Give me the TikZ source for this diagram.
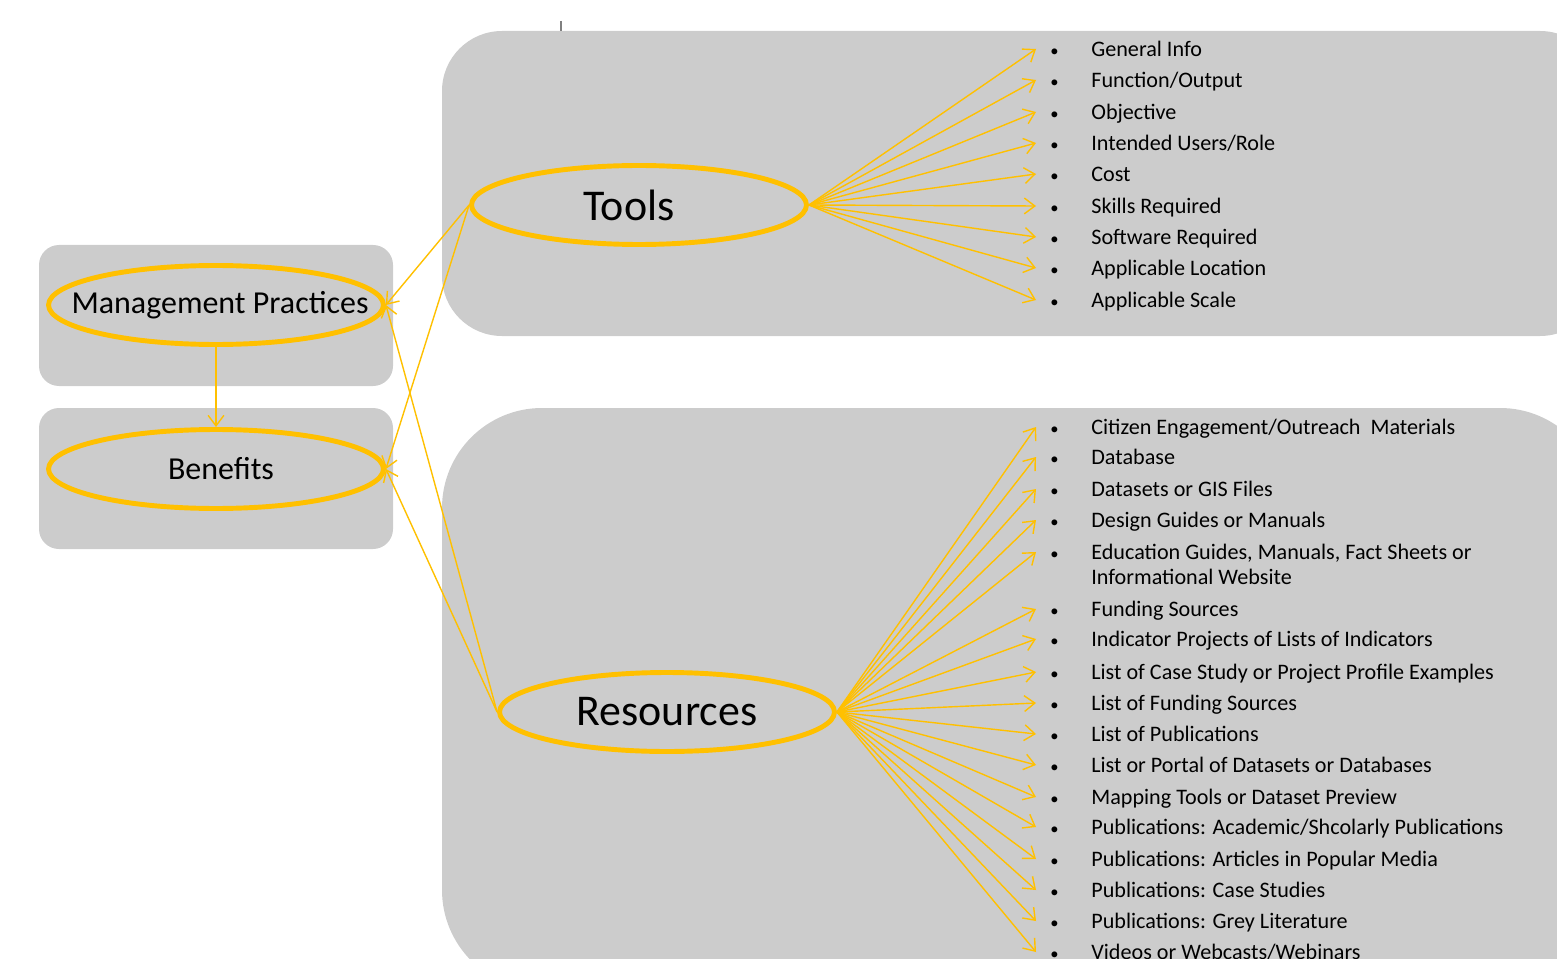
\documentclass[tikz,border=0pt]{standalone}
\usepackage{fontspec}
\setmainfont{Carlito}
\usetikzlibrary{shapes.geometric,arrows.meta}
\definecolor{gold}{HTML}{FFC000}
\definecolor{panelgrey}{HTML}{CCCCCC}
\newcommand{\bul}{\makebox[0.86cm][l]{\hspace{0.04cm}\scalebox{0.75}{\textbullet}}}

\begin{document}
\begin{tikzpicture}[x=0.02cm,y=-0.02cm,
    panel/.style = {fill=panelgrey},
    topic/.style = {ellipse, draw=gold, line width=2.8pt, minimum width=6.7cm, minimum height=1.58cm, inner sep=0pt},
    arr/.style = {-{Straight Barb[length=6pt,width=9pt]}, draw=gold, line width=0.8pt},
    item/.style = {anchor=west, inner sep=0pt, text height=9pt, text depth=1pt, font=\fontsize{12.6}{15}\selectfont}
  ]
    \useasboundingbox (0,0) rectangle (1557,959);
    \clip (0,0) rectangle (1557,959);

    \fill[panel, rounded corners=0.4cm] (39,245) rectangle (393,386);
    \fill[panel, rounded corners=0.4cm] (39,408) rectangle (393,549);
    \fill[panel, rounded corners=1.2cm] (442,31) rectangle (1600,336);
    \fill[panel, rounded corners=2cm] (442,408) rectangle (1600,990);
    \draw[gray, line width=1pt] (561,21) -- (561,31);

    \node[topic, label={[font=\fontsize{18.2}{21}\selectfont, xshift=0.08cm]center:Management Practices}] (mp) at (216,305) {};
    \node[topic, label={[font=\fontsize{18.2}{21}\selectfont, xshift=0.1cm]center:Benefits}] (ben) at (216,469) {};
    \node[topic, label={[font=\fontsize{25}{30}\selectfont, xshift=-0.2cm]center:Tools}] (tools) at (639,205) {};
    \node[topic, label={[font=\fontsize{25}{30}\selectfont]center:Resources}] (res) at (667,712) {};

    \draw[arr] (mp.south) -- (ben.north);
    \draw[arr] (tools.west) -- (mp.east);
    \draw[arr] (tools.west) -- (ben.east);
    \draw[arr] (res.west) -- (mp.east);
    \draw[arr] (res.west) -- (ben.east);

    \node[item] (t1) at (1048,49) {\bul General Info};
    \node[item] (t2) at (1048,80) {\bul Function/Output};
    \node[item] (t3) at (1048,112) {\bul Objective};
    \node[item] (t4) at (1048,143) {\bul Intended Users/Role};
    \node[item] (t5) at (1048,174) {\bul Cost};
    \node[item] (t6) at (1048,206) {\bul Skills Required};
    \node[item] (t7) at (1048,237) {\bul Software Required};
    \node[item] (t8) at (1048,268) {\bul Applicable Location};
    \node[item] (t9) at (1048,300) {\bul Applicable Scale};
    \draw[arr] (tools.east) -- ([xshift=-0.24cm]t1.west);
    \draw[arr] (tools.east) -- ([xshift=-0.24cm]t2.west);
    \draw[arr] (tools.east) -- ([xshift=-0.24cm]t3.west);
    \draw[arr] (tools.east) -- ([xshift=-0.24cm]t4.west);
    \draw[arr] (tools.east) -- ([xshift=-0.24cm]t5.west);
    \draw[arr] (tools.east) -- ([xshift=-0.24cm]t6.west);
    \draw[arr] (tools.east) -- ([xshift=-0.24cm]t7.west);
    \draw[arr] (tools.east) -- ([xshift=-0.24cm]t8.west);
    \draw[arr] (tools.east) -- ([xshift=-0.24cm]t9.west);

    \node[item] (r1) at (1048,427) {\bul Citizen Engagement/Outreach\ \ Materials};
    \node[item] (r2) at (1048,457) {\bul Database};
    \node[item] (r3) at (1048,489) {\bul Datasets or GIS Files};
    \node[item] (r4) at (1048,520) {\bul Design Guides or Manuals};
    \node[item] (r5) at (1048,552) {\bul Education Guides, Manuals, Fact Sheets or};
    \node[item] (r5b) at (1091,577) {Informational Website};
    \node[item] (r6) at (1048,609) {\bul Funding Sources};
    \node[item] (r7) at (1048,639) {\bul Indicator Projects of Lists of Indicators};
    \node[item] (r8) at (1048,672) {\bul List of Case Study or Project Profile Examples};
    \node[item] (r9) at (1048,703) {\bul List of Funding Sources};
    \node[item] (r10) at (1048,734) {\bul List of Publications};
    \node[item] (r11) at (1048,765) {\bul List or Portal of Datasets or Databases};
    \node[item] (r12) at (1048,797) {\bul Mapping Tools or Dataset Preview};
    \node[item] (r13) at (1048,827) {\bul Publications: Academic/Shcolarly Publications};
    \node[item] (r14) at (1048,859) {\bul Publications: Articles in Popular Media};
    \node[item] (r15) at (1048,890) {\bul Publications: Case Studies};
    \node[item] (r16) at (1048,921) {\bul Publications: Grey Literature};
    \node[item] (r17) at (1048,952) {\bul Videos or Webcasts/Webinars};
    \draw[arr] (res.east) -- ([xshift=-0.24cm]r1.west);
    \draw[arr] (res.east) -- ([xshift=-0.24cm]r2.west);
    \draw[arr] (res.east) -- ([xshift=-0.24cm]r3.west);
    \draw[arr] (res.east) -- ([xshift=-0.24cm]r4.west);
    \draw[arr] (res.east) -- ([xshift=-0.24cm]r5.west);
    \draw[arr] (res.east) -- ([xshift=-0.24cm]r6.west);
    \draw[arr] (res.east) -- ([xshift=-0.24cm]r7.west);
    \draw[arr] (res.east) -- ([xshift=-0.24cm]r8.west);
    \draw[arr] (res.east) -- ([xshift=-0.24cm]r9.west);
    \draw[arr] (res.east) -- ([xshift=-0.24cm]r10.west);
    \draw[arr] (res.east) -- ([xshift=-0.24cm]r11.west);
    \draw[arr] (res.east) -- ([xshift=-0.24cm]r12.west);
    \draw[arr] (res.east) -- ([xshift=-0.24cm]r13.west);
    \draw[arr] (res.east) -- ([xshift=-0.24cm]r14.west);
    \draw[arr] (res.east) -- ([xshift=-0.24cm]r15.west);
    \draw[arr] (res.east) -- ([xshift=-0.24cm]r16.west);
    \draw[arr] (res.east) -- ([xshift=-0.24cm]r17.west);
\end{tikzpicture}
\end{document}
